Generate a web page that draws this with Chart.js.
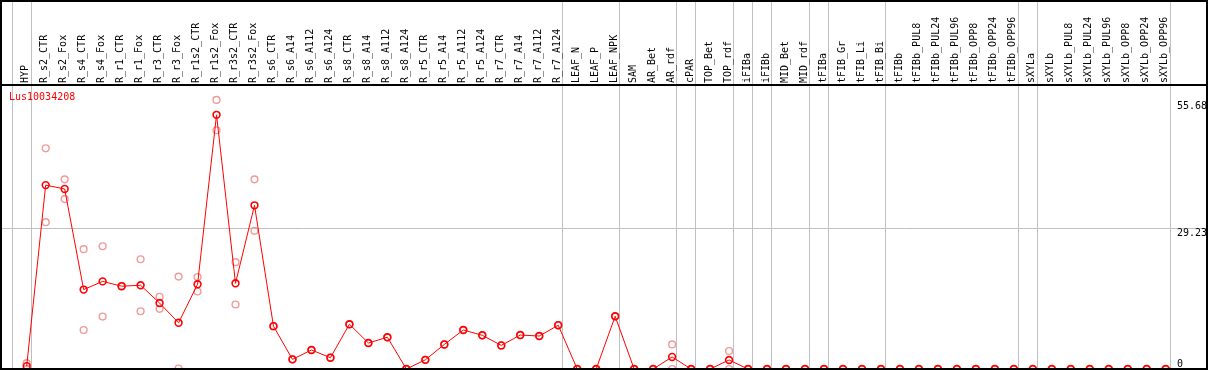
<!DOCTYPE html>
<html lang="en">
    <head>
        <meta charset="utf-8" />
        <title>Lus10034208 expression</title>
        <script src="https://cdnjs.cloudflare.com/ajax/libs/Chart.js/4.4.0/chart.umd.js"></script>
        <style>
            body {
                margin: 0;
                background: #fff;
            }
            #wrap {
                position: relative;
                width: 1209px;
                height: 370px;
            }
            canvas {
                display: block;
            }
            #frame {
                position: absolute;
                left: 0;
                top: 0;
                width: 1208px;
                height: 370px;
                border: 2px solid #000;
                box-sizing: border-box;
                pointer-events: none;
            }
            #gene {
                position: absolute;
                left: 9px;
                top: 91px;
                font: 10px "DejaVu Sans Mono", monospace;
                color: #f00;
                line-height: 12px;
            }
        </style>
    </head>
    <body>
        <div id="wrap">
            <canvas id="canvas" width="1209" height="370"></canvas>
            <div id="frame"></div>
            <div id="gene"></div>
        </div>
        <script>
            const gene = 'Lus10034208';

            const categories = [
                'HYP', 'R_s2_CTR', 'R_s2_Fox', 'R_s4_CTR', 'R_s4_Fox', 'R_r1_CTR', 'R_r1_Fox',
                'R_r3_CTR', 'R_r3_Fox', 'R_r1s2_CTR', 'R_r1s2_Fox', 'R_r3s2_CTR', 'R_r3s2_Fox',
                'R_s6_CTR', 'R_s6_A14', 'R_s6_A112', 'R_s6_A124', 'R_s8_CTR', 'R_s8_A14',
                'R_s8_A112', 'R_s8_A124', 'R_r5_CTR', 'R_r5_A14', 'R_r5_A112', 'R_r5_A124',
                'R_r7_CTR', 'R_r7_A14', 'R_r7_A112', 'R_r7_A124', 'LEAF_N', 'LEAF_P', 'LEAF_NPK',
                'SAM', 'AR_Bet', 'AR_rdf', 'cPAR', 'TOP_Bet', 'TOP_rdf', 'iFIBa', 'iFIBb',
                'MID_Bet', 'MID_rdf', 'tFIBa', 'tFIB_Gr', 'tFIB_Li', 'tFIB_Bi', 'tFIBb',
                'tFIBb_PUL8', 'tFIBb_PUL24', 'tFIBb_PUL96', 'tFIBb_OPP8', 'tFIBb_OPP24', 'tFIBb_OPP96',
                'sXYLa', 'sXYLb', 'sXYLb_PUL8', 'sXYLb_PUL24', 'sXYLb_PUL96', 'sXYLb_OPP8',
                'sXYLb_OPP24', 'sXYLb_OPP96'
            ];

            // mean per sample
            const means = [
                0.6, 38.2, 37.4, 16.5, 18.2, 17.2, 17.4,
                13.7, 9.6, 17.6, 52.8, 17.8, 34.0,
                8.9, 2.0, 3.95, 2.35, 9.3, 5.4,
                6.6, 0, 1.9, 5.1, 8.1, 7.0,
                4.9, 7.05, 6.85, 9.1, 0, 0, 10.95,
                0, 0, 2.5, 0, 0, 1.87, 0, 0,
                0, 0, 0, 0, 0, 0, 0,
                0, 0, 0, 0, 0, 0,
                0, 0, 0, 0, 0, 0,
                0, 0
            ];

            // replicates
            const rep1 = [
                1.2, 45.85, 39.4, 24.9, 25.5, 17.2, 22.8,
                15.0, 19.2, 19.1, 55.9, 22.2, 39.4,
                8.9, 2.0, 3.95, 2.35, 9.3, 5.4,
                6.6, 0, 1.9, 5.1, 8.1, 7.0,
                4.9, 7.05, 6.85, 9.1, 0, 0, 10.95,
                0, 0, 5.1, 0, 0, 3.74, 0, 0,
                0, 0, 0, 0, 0, 0, 0,
                0, 0, 0, 0, 0, 0,
                0, 0, 0, 0, 0, 0,
                0, 0
            ];
            const rep2 = [
                0, 30.5, 35.3, 8.1, 10.9, 17.2, 12.0,
                12.5, 0.1, 16.1, 49.6, 13.4, 28.7,
                8.9, 2.0, 3.95, 2.35, 9.3, 5.4,
                6.6, 0, 1.9, 5.1, 8.1, 7.0,
                4.9, 7.05, 6.85, 9.1, 0, 0, 10.95,
                0, 0, 0, 0, 0, 0, 0, 0,
                0, 0, 0, 0, 0, 0, 0,
                0, 0, 0, 0, 0, 0,
                0, 0, 0, 0, 0, 0,
                0, 0
            ];

            const yTicks = [0, 29.23, 55.68];
            // group separators sit just after these sample indexes
            const groupEnds = [-1, 0, 28, 31, 34, 35, 37, 38, 39, 41, 42, 45, 52, 53, 60];

            const xMin = -1.354;
            const xMax = 62.177;
            const yMax = 59;

            document.getElementById('gene').textContent = gene;

            const toPoints = arr => arr.map((v, i) => ({ x: i, y: v }));

            function noPad(scale) {
                scale.paddingLeft = 0;
                scale.paddingRight = 0;
                scale.paddingTop = 0;
                scale.paddingBottom = 0;
            }

            Chart.defaults.font.family = '"DejaVu Sans Mono", monospace';
            Chart.defaults.font.size = 10;
            Chart.defaults.color = '#000';

            const chart = new Chart('canvas', {
                type: 'line',
                data: {
                    datasets: [{
                        label: gene,
                        data: toPoints(means),
                        borderColor: '#ff0000',
                        borderWidth: 1,
                        pointStyle: 'circle',
                        pointRadius: 3.4,
                        pointBorderWidth: 1.6,
                        pointBorderColor: '#ff0000',
                        pointBackgroundColor: 'rgba(0,0,0,0)',
                        tension: 0
                    }, {
                        label: 'rep1',
                        data: toPoints(rep1),
                        showLine: false,
                        pointStyle: 'circle',
                        pointRadius: 3.4,
                        pointBorderWidth: 1.4,
                        pointBorderColor: '#f09a9a',
                        pointBackgroundColor: 'rgba(0,0,0,0)'
                    }, {
                        label: 'rep2',
                        data: toPoints(rep2),
                        showLine: false,
                        pointStyle: 'circle',
                        pointRadius: 3.4,
                        pointBorderWidth: 1.4,
                        pointBorderColor: '#f09a9a',
                        pointBackgroundColor: 'rgba(0,0,0,0)'
                    }]
                },
                options: {
                    responsive: false,
                    devicePixelRatio: 1,
                    animation: false,
                    layout: {
                        autoPadding: false,
                        padding: { left: 1, right: 2, top: 0, bottom: 1 }
                    },
                    plugins: {
                        legend: { display: false },
                        tooltip: { enabled: false }
                    },
                    scales: {
                        x: {
                            type: 'linear',
                            position: 'top',
                            weight: 1,
                            min: xMin,
                            max: xMax,
                            afterBuildTicks: s => { s.ticks = categories.map((c, i) => ({ value: i })); },
                            afterFit: s => { s.height = 85; noPad(s); },
                            grid: { display: false, drawTicks: false },
                            border: { display: true, color: '#000', width: 2 },
                            ticks: {
                                autoSkip: false,
                                minRotation: 90,
                                maxRotation: 90,
                                padding: 2,
                                labelOffset: 11,
                                callback: v => categories[v]
                            }
                        },
                        xs: {
                            type: 'linear',
                            position: 'top',
                            weight: 0,
                            min: xMin,
                            max: xMax,
                            afterBuildTicks: s => { s.ticks = groupEnds.map(i => ({ value: i + 0.237 })); },
                            afterFit: s => { s.height = 0; noPad(s); },
                            grid: { color: '#c0c0c0', lineWidth: 1, drawTicks: true, tickLength: 85 },
                            border: { display: false },
                            ticks: { display: false }
                        },
                        y: {
                            type: 'linear',
                            position: 'right',
                            min: 0,
                            max: yMax,
                            afterBuildTicks: s => { s.ticks = yTicks.slice(1).map(v => ({ value: v })); },
                            afterFit: s => { s.width = 0; noPad(s); },
                            grid: {
                                drawTicks: false,
                                color: c => (c.tick && c.tick.value === yTicks[1]) ? '#c0c0c0' : 'rgba(0,0,0,0)'
                            },
                            border: { display: false },
                            ticks: {
                                mirror: true,
                                crossAlign: 'far',
                                align: 'start',
                                padding: 0,
                                callback: v => String(v)
                            }
                        },
                        y0: {
                            type: 'linear',
                            position: 'right',
                            min: 0,
                            max: yMax,
                            afterBuildTicks: s => { s.ticks = [{ value: yTicks[0] }]; },
                            afterFit: s => { s.width = 0; noPad(s); },
                            grid: { display: false, drawTicks: false },
                            border: { display: false },
                            ticks: {
                                mirror: true,
                                crossAlign: 'far',
                                align: 'end',
                                padding: -24,
                                callback: v => String(v)
                            }
                        }
                    }
                }
            });
        </script>
    </body>
</html>
